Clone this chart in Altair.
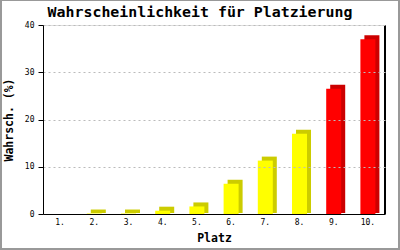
import altair as alt
import pandas as pd

titel = "Wahrscheinlichkeit für Platzierung"
plaetze = ["1.", "2.", "3.", "4.", "5.", "6.", "7.", "8.", "9.", "10."]
werte = [0.0, 0.1, 0.1, 0.7, 1.6, 6.4, 11.3, 17.0, 26.5, 37.0]
rot_ab = 9  # Plätze ab hier rot

df = pd.DataFrame({"Platz": plaetze, "Wert": werte, "Nr": list(range(1, 11))})

W, H = 342, 189
PL, PT, PR, PB = 43, 25, 15, 36
MONO = "DejaVu Sans Mono"

x_enc = alt.X("Platz:N", sort=plaetze,
              scale=alt.Scale(paddingInner=0, paddingOuter=0),
              axis=alt.Axis(title="Platz", labelAngle=0, ticks=False,
                            domain=True, domainColor="black", domainWidth=1,
                            labelFont=MONO, labelFontSize=8, labelColor="black",
                            labelPadding=4, titleFont=MONO, titleFontSize=11.5,
                            titleFontWeight="bold", titleColor="black",
                            titlePadding=6, grid=False, zindex=1))
y_enc = alt.Y("Wert:Q", scale=alt.Scale(domain=[0, 40], nice=False),
              axis=alt.Axis(title="Wahrsch. (%)", values=[0, 10, 20, 30, 40],
                            tickSize=5, tickColor="black", domainColor="black",
                            labelFont=MONO, labelFontSize=8, labelColor="black",
                            labelPadding=4, titleFont=MONO, titleFontSize=11.5,
                            titleFontWeight="bold", titleColor="black",
                            titlePadding=10, grid=True, gridColor="#bbbbbb",
                            gridDash=[2, 3], gridWidth=1, zindex=1))

base = alt.Chart(df)

border = base.mark_rect(filled=False, stroke="#999999", strokeWidth=2).encode(
    x=alt.value(-PL + 1), x2=alt.value(W + PR - 1),
    y=alt.value(-PT), y2=alt.value(H + PB - 1))

depth = base.transform_filter("datum.Wert > 0").mark_bar(
    size=15, xOffset=4, yOffset=-4, y2Offset=-1).encode(
    x=x_enc, y=y_enc, y2=alt.datum(0),
    color=alt.condition(f"datum.Nr >= {rot_ab}", alt.value("#CC0000"), alt.value("#CCCC00")))

face = base.mark_bar(size=15).encode(
    x=x_enc, y=y_enc,
    color=alt.condition(f"datum.Nr >= {rot_ab}", alt.value("#FF0000"), alt.value("#FFFF00")))

right_line = base.mark_rule(color="black", strokeWidth=1).encode(
    x=alt.value(W), y=alt.value(0), y2=alt.value(H))

title_layer = alt.Chart(pd.DataFrame({"t": [titel]})).mark_text(
    font=MONO, fontSize=14.9, fontWeight="bold", color="black",
    align="center", baseline="middle").encode(
    text="t:N", x=alt.value(200 - PL), y=alt.value(13 - PT))

chart = alt.layer(border, depth, face, right_line, title_layer).properties(
    width=W, height=H,
    autosize=alt.AutoSizeParams(type="none"),
    padding={"left": PL, "top": PT, "right": PR, "bottom": PB},
).configure_view(stroke=None).configure(background="white")

chart.save("out.html", embed_options={"renderer": "svg", "actions": False})
